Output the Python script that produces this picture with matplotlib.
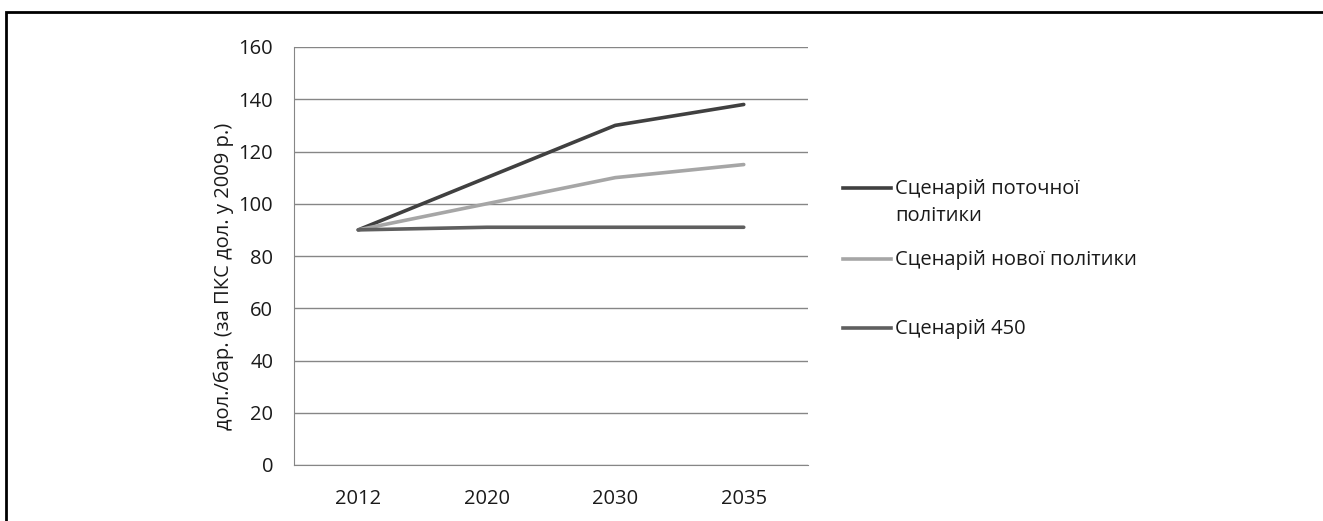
import matplotlib.pyplot as plt
from matplotlib.lines import Line2D
from matplotlib.patches import Rectangle

years = ["2012", "2020", "2030", "2035"]
current_policy = [90, 110, 130, 138]
new_policy = [90, 100, 110, 115]
scenario_450 = [90, 91, 91, 91]

labels = ["Сценарій поточної\nполітики", "Сценарій нової політики", "Сценарій 450"]
colors = ["#404040", "#a6a6a6", "#5f5f5f"]
ylabel = "дол./бар. (за ПКС дол. у 2009 р.)"

plt.rcParams["font.family"] = ["Open Sans", "DejaVu Sans"]
FS = 14.5

W, H = 1323, 521
fig = plt.figure(figsize=(W / 100, H / 100), dpi=100)

# outer frame
fig.add_artist(Rectangle((6 / W, -0.1), 1.2, (H - 12) / H + 0.1, transform=fig.transFigure,
                         fill=False, edgecolor="black", linewidth=2))

ax = fig.add_axes([294 / W, 1 - 465 / H, 514 / W, 418 / H])
x = list(range(len(years)))
series = [current_policy, new_policy, scenario_450]
for vals, c in zip(series, colors):
    ax.plot(x, vals, color=c, linewidth=2.6, solid_capstyle="round")

ax.set_xlim(-0.5, len(years) - 0.5)
ax.set_ylim(0, 160)
ax.set_yticks(range(0, 161, 20))
ax.set_xticks(x)
ax.set_xticklabels(years)
ax.grid(axis="y", color="#868686", linewidth=1)
ax.set_axisbelow(True)
for s in ["top", "right"]:
    ax.spines[s].set_visible(False)
for s in ["left", "bottom"]:
    ax.spines[s].set_color("#868686")
ax.tick_params(length=0, labelsize=FS, colors="#1a1a1a")
ax.tick_params(axis="y", pad=15)
ax.tick_params(axis="x", pad=17)
ax.set_ylabel(ylabel, fontsize=FS, color="#1a1a1a")
ax.yaxis.set_label_coords(-0.117, 0.452)

# legend, handle on first text line as in the source
leg_y = [188, 259, 328]
for lab, c, yy in zip(labels, colors, leg_y):
    fy = 1 - yy / H
    fig.add_artist(Line2D([843 / W, 891 / W], [fy, fy], transform=fig.transFigure,
                          color=c, linewidth=2.6))
    fig.text(895 / W, fy + 9 / H, lab, fontsize=FS, va="top", ha="left",
             color="#1a1a1a", linespacing=1.45)

fig.savefig("out.png", dpi=100, facecolor="white")
